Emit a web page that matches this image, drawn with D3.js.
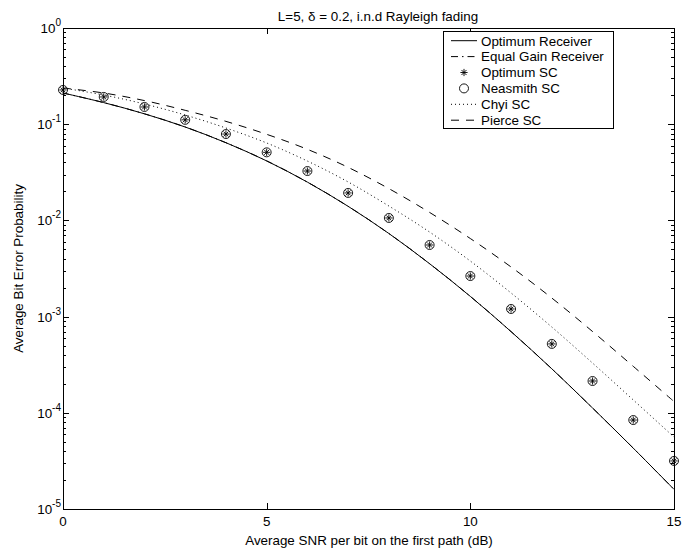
<!DOCTYPE html>
<html><head><meta charset="utf-8">
<script src="https://cdn.jsdelivr.net/npm/d3@7"></script>
<style>body{margin:0;background:#fff} svg{display:block} text{font-family:"Liberation Sans",Arial,Helvetica,sans-serif;fill:#000}</style>
</head><body><svg id="c" width="694" height="549"></svg>
<script>
// ---- data ----
const snr = [0,1,2,3,4,5,6,7,8,9,10,11,12,13,14,15];
const optimumReceiver = [0.2110,0.1677,0.1282,0.0935,0.0642,0.04155,0.0250,0.01401,0.00731,0.003547,0.001622,0.000698,0.0002867,0.0001122,0.0000429,0.0000160];
const equalGain = [0.2110,0.1677,0.1282,0.0935,0.0642,0.04155,0.0250,0.01401,0.00731,0.003547,0.001622,0.000698,0.0002867,0.0001122,0.0000429,0.0000160];
const optimumSC = [0.227,0.192,0.151,0.111,0.079,0.051,0.0326,0.0193,0.0106,0.00555,0.00264,0.0012,0.00052,0.000214,0.0000841,0.0000316];
const neasmithSC = [0.227,0.192,0.151,0.111,0.079,0.051,0.0326,0.0193,0.0106,0.00555,0.00264,0.0012,0.00052,0.000214,0.0000841,0.0000316];
const chyiSC = [0.2378,0.2011,0.1622,0.1246,0.0913,0.0638,0.0414,0.0251,0.01411,0.00757,0.00378,0.00176,0.000779,0.000329,0.000136,0.0000560];
const pierceSC = [0.2378,0.2110,0.1760,0.1394,0.1070,0.0785,0.0548,0.0356,0.0214,0.01210,0.00648,0.00328,0.00156,0.000700,0.000304,0.000131];
const xTicks = [0,5,10,15];
const yDecades = [1e-5,1e-4,1e-3,1e-2,1e-1,1];
const yExponents = ["-5","-4","-3","-2","-1","0"];
const legendLabels = ["Optimum Receiver","Equal Gain Receiver","Optimum SC","Neasmith SC","Chyi SC","Pierce SC"];
const titleText = "L=5, \u03b4 = 0.2, i.n.d Rayleigh fading";
const xLabel = "Average SNR per bit on the first path (dB)";
const yLabel = "Average Bit Error Probability";

// ---- layout ----
const L=63, R=674, T=28, B=509;
const svg = d3.select("#c");
svg.append("rect").attr("width",694).attr("height",549).attr("fill","#fff");
const x = d3.scaleLinear().domain([0,15]).range([L,R]);
const y = d3.scaleLog().domain([1e-5,1]).range([B,T]);

const styles = { solid: null, dashdot: "7,4,1.5,4", dotted: "1,3", dashed: "8,7" };

const minor = [];
yDecades.slice(0,-1).forEach(d => { for (let k=2;k<10;k++) minor.push(d*k); });

const ax = svg.append("g").attr("stroke","#000").attr("stroke-width",1);
function tick(x1,y1,x2,y2){ ax.append("line").attr("x1",x1).attr("y1",y1).attr("x2",x2).attr("y2",y2); }
yDecades.forEach(v => { const yy=Math.round(y(v))+0.5; tick(L,yy,L+6,yy); tick(R,yy,R-6,yy); });
minor.forEach(v => { const yy=Math.round(y(v))+0.5; tick(L,yy,L+3,yy); tick(R,yy,R-3,yy); });
xTicks.forEach(v => { const xx=Math.round(x(v))+0.5; tick(xx,B,xx,B-6); tick(xx,T,xx,T+6); });
svg.append("rect").attr("x",L+0.5).attr("y",T+0.5).attr("width",R-L).attr("height",B-T)
  .attr("fill","none").attr("stroke","#000").attr("stroke-width",1);

xTicks.forEach(v => {
  svg.append("text").attr("x",x(v)).attr("y",526).attr("text-anchor","middle")
    .attr("font-size",13.4).text(v);
});
yDecades.forEach((v,i) => {
  const t = svg.append("text").attr("x",61).attr("y",y(v)+5).attr("text-anchor","end").attr("font-size",13.4);
  t.append("tspan").text("10");
  t.append("tspan").attr("dy",-7).attr("font-size",10).text(yExponents[i]);
});

svg.append("text").attr("x",378).attr("y",21).attr("text-anchor","middle").attr("font-size",13.4).text(titleText);
svg.append("text").attr("x",369).attr("y",545).attr("text-anchor","middle").attr("font-size",13.4).text(xLabel);
svg.append("text").attr("transform","translate(23,268.5) rotate(-90)").attr("text-anchor","middle").attr("font-size",13.4).text(yLabel);

const line = d3.line().x((d,i)=>x(snr[i])).y(d=>y(d)).curve(d3.curveCatmullRom.alpha(0.5));
const plot = svg.append("g");
function drawLine(data, dash){
  plot.append("path").attr("d",line(data)).attr("fill","none").attr("stroke","#000")
    .attr("stroke-width",1).attr("stroke-dasharray",dash);
}
drawLine(optimumReceiver, styles.solid);
drawLine(equalGain, styles.dashdot);
drawLine(chyiSC, styles.dotted);
drawLine(pierceSC, styles.dashed);

function star(g,cx,cy,r){
  const p = `M${cx-r},${cy}H${cx+r}M${cx},${cy-r}V${cy+r}`+
    `M${cx-r*0.7},${cy-r*0.7}L${cx+r*0.7},${cy+r*0.7}M${cx-r*0.7},${cy+r*0.7}L${cx+r*0.7},${cy-r*0.7}`;
  g.append("path").attr("d",p).attr("stroke","#000").attr("stroke-width",0.9).attr("fill","none");
}
function circ(g,cx,cy,r){
  g.append("circle").attr("cx",cx).attr("cy",cy).attr("r",r).attr("fill","none").attr("stroke","#000").attr("stroke-width",0.9);
}
optimumSC.forEach((v,i)=> star(plot, x(snr[i]), y(v), 3.6));
neasmithSC.forEach((v,i)=> circ(plot, x(snr[i]), y(v), 4.5));

const lg = svg.append("g");
lg.append("rect").attr("x",443.5).attr("y",31.5).attr("width",170).attr("height",97)
  .attr("fill","#fff").attr("stroke","#000").attr("stroke-width",1);
const dashes = [styles.solid, styles.dashdot, null, null, styles.dotted, styles.dashed];
legendLabels.forEach((lab,i) => {
  const cy = 40.7 + i*15.9;
  if (i===2) star(lg, 464, cy, 3.6);
  else if (i===3) circ(lg, 464, cy, 4.5);
  else lg.append("line").attr("x1",451).attr("x2",477).attr("y1",cy).attr("y2",cy)
      .attr("stroke","#000").attr("stroke-width",1).attr("stroke-dasharray",dashes[i]);
  lg.append("text").attr("x",481).attr("y",cy+4.8).attr("font-size",13.4).text(lab);
});
</script></body></html>
